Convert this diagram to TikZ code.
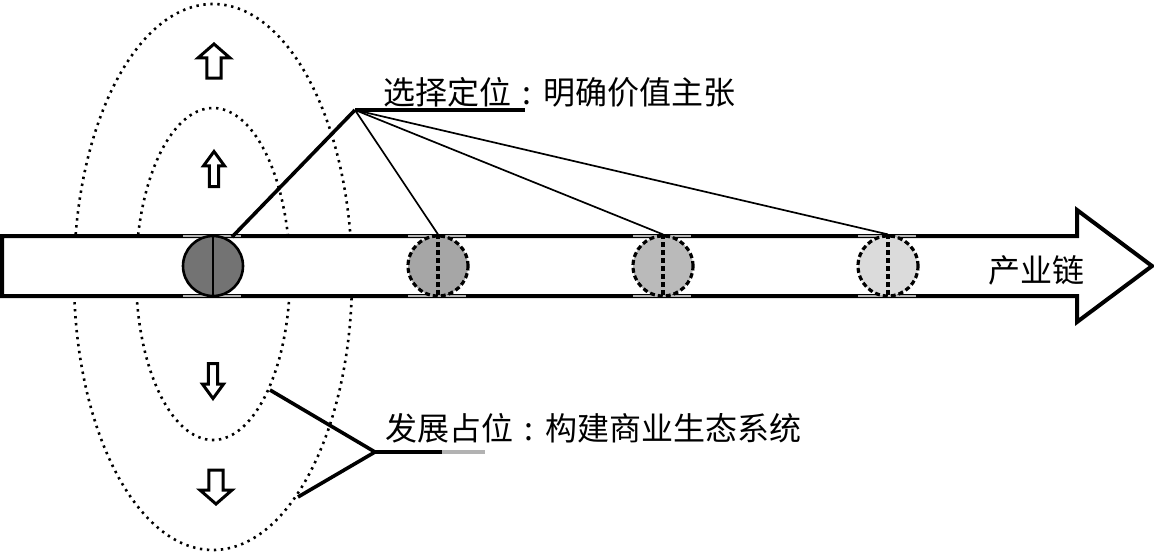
\documentclass[tikz,border=0pt]{standalone}
\usepackage{fontspec}
\newfontfamily\cjk{Noto Sans CJK SC}
\newcommand{\mycolon}{\makebox[1em][c]{:}}
\begin{document}
\begin{tikzpicture}[x=1pt,y=-1pt,
  dotline/.style={line width=2.6pt,dash pattern=on 2.4pt off 4.6pt},
  ball/.style={circle,draw,minimum size=60pt,inner sep=0pt},
  dashln/.style={line width=3.2pt,dash pattern=on 5pt off 3pt},
  dball/.style={ball,dashln},
  thickln/.style={line width=3.6pt},
  thinln/.style={line width=1.7pt},
  lbl/.style={font=\cjk\fontsize{32}{38}\selectfont,inner sep=0pt,anchor=west},
  pics/blockarr/.style={code={
    \draw[line width=3pt,fill=white,line join=miter]
      (-0.22,1) -- (-0.22,-0.18) -- (-0.5,-0.18) -- (0,-1) -- (0.5,-0.18) -- (0.22,-0.18) -- (0.22,1) -- cycle;}}
]
\useasboundingbox (0,0) rectangle (1154,554);
% ellipses
\draw[dotline] (213,277) ellipse [x radius=139, y radius=273];
\draw[dotline] (213,274) ellipse [x radius=77, y radius=166];
% main arrow
\draw[line width=4pt,line join=miter,fill=white] (2,236) -- (1077,236) -- (1077,210) -- (1152,266) -- (1077,322) -- (1077,296) -- (2,296) -- cycle;
\node[font=\cjk\fontsize{32}{38}\selectfont,inner sep=0pt] (chain) at (1036,270) {产业链};
% circles
\foreach \cx in {213,438,663,888}{
  \draw[gray!60,line width=2.5pt] (\cx-30,236) -- (\cx+28,236);
  \draw[gray!60,line width=2.5pt] (\cx-30,296) -- (\cx+28,296);
}
\node[ball,fill=black!55,line width=2.6pt] (c1) at (213,266) {};
\draw[line width=2.8pt] (c1.north) -- (c1.south);
\node[dball,fill=black!35] (c2) at (438,266) {};
\draw[dashln] (c2.north) -- (c2.south);
\node[dball,fill=black!27] (c3) at (663,266) {};
\draw[dashln] (c3.north) -- (c3.south);
\node[dball,fill=black!14] (c4) at (888,266) {};
\draw[dashln] (c4.north) -- (c4.south);
% block arrows
\pic[xscale=32,yscale=17] (a1) at (214,61) {blockarr};
\pic[xscale=21,yscale=17.5] (a2) at (214,169) {blockarr};
\pic[xscale=21,yscale=-17.5] (a3) at (213,381) {blockarr};
\pic[xscale=32,yscale=-17] (a4) at (216,487) {blockarr};
% top label
\coordinate (ta) at (355,110);
\coordinate (tu) at (525,110);
\node[lbl] (tl) at (383,92) {选择定位\mycolon 明确价值主张};
\draw[thickln] (ta) -- (tu);
\draw[thickln] (ta) -- (232,237);
\draw[thinln] (ta) -- (c2.north);
\draw[thinln] (ta) -- (c3.north);
\draw[thinln] (ta) -- (c4.north);
% bottom label
\coordinate (ba) at (375,452);
\coordinate (b1) at (270,390);
\coordinate (b2) at (298,497);
\coordinate (bu) at (442,452);
\coordinate (bg) at (485,452);
\node[lbl] (bl) at (385,428) {发展占位\mycolon 构建商业生态系统};
\draw[thickln,line join=miter] (b1) -- (ba) -- (b2);
\draw[thickln] (ba) -- (bu);
\draw[gray!60,thickln] (bu) -- (bg);
\end{tikzpicture}
\end{document}
